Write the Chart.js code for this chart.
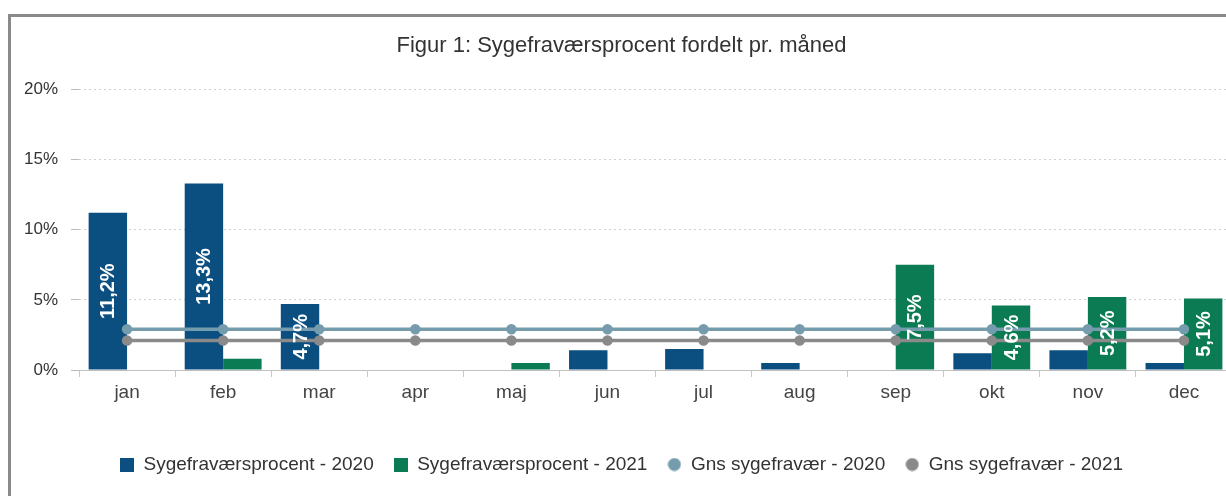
<!DOCTYPE html>
<html>
<head>
<meta charset="utf-8">
<script src="https://cdn.jsdelivr.net/npm/chart.js@4/dist/chart.umd.min.js"></script>
<style>
  body { margin: 0; background: #fff; overflow: hidden; width: 1226px; height: 496px; position: relative; }
  #frame { position: absolute; left: 8px; top: 14px; width: 1240px; height: 500px;
           border-left: 3px solid #8a8a8a; border-top: 3px solid #8a8a8a; }
  #wrap { position: absolute; left: 11px; top: 17px; width: 1230px; height: 479px; }
</style>
</head>
<body>
<div id="frame"></div>
<div id="wrap"><canvas id="sygefravaer"></canvas></div>
<script>
  const months = ['jan', 'feb', 'mar', 'apr', 'maj', 'jun', 'jul', 'aug', 'sep', 'okt', 'nov', 'dec'];
  const pct2020 = [11.2, 13.3, 4.7, 0, 0, 1.4, 1.5, 0.5, 0, 1.2, 1.4, 0.5];
  const pct2021 = [0, 0.8, 0, 0, 0.5, 0, 0, 0, 7.5, 4.6, 5.2, 5.1];
  const avg2020 = [2.9, 2.9, 2.9, 2.9, 2.9, 2.9, 2.9, 2.9, 2.9, 2.9, 2.9, 2.9];
  const avg2021 = [2.1, 2.1, 2.1, 2.1, 2.1, 2.1, 2.1, 2.1, 2.1, 2.1, 2.1, 2.1];
  const yTicks = [0, 5, 10, 15, 20];

  const FONT = '"Liberation Sans", Arial, sans-serif';
  Chart.defaults.font.family = FONT;
  Chart.defaults.color = '#333';

  // small legend markers: squares for bars, dots for the average lines
  function marker(color, round) {
    const c = document.createElement('canvas');
    c.width = 14; c.height = 14;
    const g = c.getContext('2d');
    g.fillStyle = color;
    if (round) { g.beginPath(); g.arc(7, 7, 6.5, 0, Math.PI * 2); g.fill(); }
    else g.fillRect(0, 0, 14, 14);
    return c;
  }

  // white rotated labels inside the bigger bars
  const barLabels = {
    id: 'barLabels',
    afterDatasetsDraw(chart) {
      const ctx = chart.ctx;
      chart.data.datasets.forEach(function(ds, i) {
        if (ds.type !== 'bar') return;
        chart.getDatasetMeta(i).data.forEach(function(bar, j) {
          const v = ds.data[j];
          if (!v || v < 3) return;
          ctx.save();
          ctx.translate(bar.x, (bar.y + bar.base) / 2);
          ctx.rotate(-Math.PI / 2);
          ctx.fillStyle = '#fff';
          ctx.font = 'bold 20px ' + FONT;
          ctx.textAlign = 'center';
          ctx.textBaseline = 'middle';
          ctx.fillText(v.toFixed(1).replace('.', ',') + '%', 0, 1);
          ctx.restore();
        });
      });
    }
  };

  const config = {
    data: {
      labels: months,
      datasets: [
        { type: 'bar', label: 'Sygefraværsprocent - 2020', data: pct2020, backgroundColor: '#0b4e80',
          categoryPercentage: 0.8, barPercentage: 1.0, order: 2 },
        { type: 'bar', label: 'Sygefraværsprocent - 2021', data: pct2021, backgroundColor: '#0a7b52',
          categoryPercentage: 0.8, barPercentage: 1.0, order: 2 },
        { type: 'line', label: 'Gns sygefravær - 2020', data: avg2020, borderColor: '#749cad',
          backgroundColor: '#749cad', borderWidth: 3.5, pointRadius: 3.5, order: 1 },
        { type: 'line', label: 'Gns sygefravær - 2021', data: avg2021, borderColor: '#8a8a8a',
          backgroundColor: '#8a8a8a', borderWidth: 3.5, pointRadius: 3.5, order: 1 }
      ]
    },
    options: {
      responsive: true,
      maintainAspectRatio: false,
      animation: false,
      layout: { padding: { left: 0, right: 9, top: 0, bottom: 12 } },
      plugins: {
        title: {
          display: true,
          text: 'Figur 1: Sygefraværsprocent fordelt pr. måned',
          font: { size: 22, weight: 'normal' },
          color: '#333',
          padding: { top: 16, bottom: 30 }
        },
        legend: {
          position: 'bottom',
          labels: {
            usePointStyle: true, boxWidth: 14, boxHeight: 14, padding: 20, font: { size: 19 }, color: '#333',
            generateLabels: function(chart) {
              const items = Chart.defaults.plugins.legend.labels.generateLabels(chart);
              items.forEach(function(it) {
                const ds = chart.data.datasets[it.datasetIndex];
                it.pointStyle = marker(ds.backgroundColor, ds.type === 'line');
              });
              return items.sort(function(a, b) { return a.datasetIndex - b.datasetIndex; });
            }
          }
        },
        tooltip: { enabled: false }
      },
      scales: {
        x: {
          grid: { drawOnChartArea: false, drawTicks: true, tickLength: 7, color: '#c8c8c8', offset: true },
          border: { display: true, color: '#c0c0c0' },
          ticks: { font: { size: 19 }, color: '#444', padding: 4 },
          afterFit: function(scale) { scale.height = 65; }
        },
        y: {
          min: 0, max: 20,
          afterBuildTicks: function(scale) { scale.ticks = yTicks.map(function(v) { return { value: v }; }); },
          grid: { color: '#d0d0d0', tickLength: 8, tickColor: '#bbb', tickBorderDash: [] },
          border: { display: false, dash: [2, 3] },
          ticks: { font: { size: 17 }, color: '#333', padding: 13, callback: function(v) { return v + '%'; } }
        }
      }
    },
    plugins: [barLabels]
  };

  new Chart(document.getElementById('sygefravaer'), config);
</script>
</body>
</html>
